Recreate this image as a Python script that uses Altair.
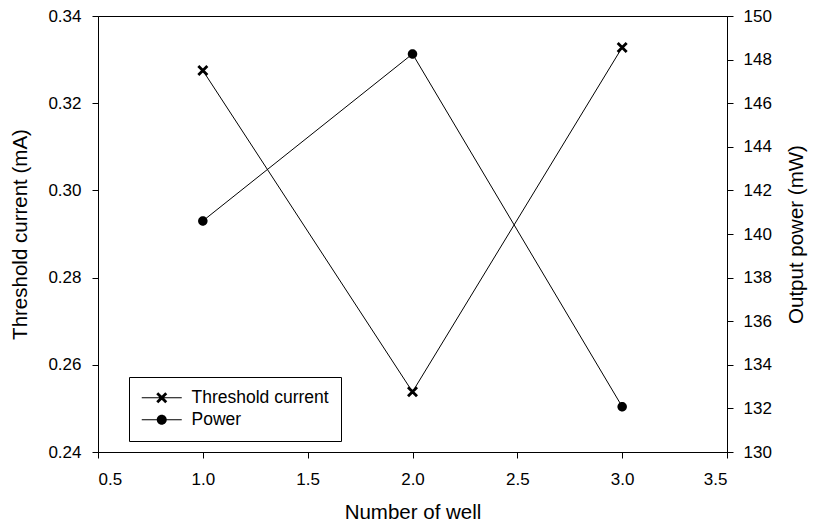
import altair as alt
import pandas as pd

wells = [1.0, 2.0, 3.0]
threshold_current = [0.3275, 0.2538, 0.3328]
output_power = [140.6, 148.26, 132.08]
series_names = ["Threshold current", "Power"]

x_ticks = [0.5, 1.0, 1.5, 2.0, 2.5, 3.0, 3.5]
left_ticks = [0.24, 0.26, 0.28, 0.30, 0.32, 0.34]
right_ticks = [130, 132, 134, 136, 138, 140, 142, 144, 146, 148, 150]

df = pd.DataFrame({"well": wells, "threshold": threshold_current, "power": output_power})

FONT = "Liberation Sans"

# marker shapes (custom SVG paths, unit coordinates, all filled with same winding)
X_PATH = ("M-0.7,-1.1L1.1,0.7L0.7,1.1L-1.1,-0.7Z"
          "M-0.7,1.1L-1.1,0.7L0.7,-1.1L1.1,-0.7Z")
CIRCLE_PATH = "M-1,0A1,1 0 1,1 1,0A1,1 0 1,1 -1,0Z"
LEG_LINE = "M-4,-0.1L4,-0.1L4,0.1L-4,0.1Z"
LEG_X = LEG_LINE + X_PATH
LEG_C = LEG_LINE + CIRCLE_PATH

x_enc = alt.X("well:Q",
              scale=alt.Scale(domain=[0.5, 3.5], nice=False, zero=False),
              axis=alt.Axis(values=x_ticks, format=".1f", title="Number of well",
                            grid=False, tickSize=6, labelPadding=13, titlePadding=15,
                            domainColor="black", tickColor="black",
                            labelFontSize=17, titleFontSize=20.5,
                            labelFont=FONT, titleFont=FONT,
                            titleFontWeight="normal", labelColor="black",
                            titleColor="black"))

y_left = alt.Y("threshold:Q",
               scale=alt.Scale(domain=[0.24, 0.34], nice=False, zero=False),
               axis=alt.Axis(values=left_ticks, format=".2f", title="Threshold current (mA)",
                             grid=False, tickSize=6, labelPadding=11, titlePadding=17,
                             domainColor="black", tickColor="black",
                             labelFontSize=17, titleFontSize=20.5,
                             labelFont=FONT, titleFont=FONT,
                             titleFontWeight="normal", labelColor="black",
                             titleColor="black"))

y_right = alt.Y("power:Q",
                scale=alt.Scale(domain=[130, 150], nice=False, zero=False),
                axis=alt.Axis(orient="right", values=right_ticks, format="d",
                              title="Output power (mW)",
                              grid=False, tickSize=6, labelPadding=10, titlePadding=15,
                              titleAngle=270, titleBaseline="top",
                              domainColor="black", tickColor="black",
                              labelFontSize=17, titleFontSize=20.5,
                              labelFont=FONT, titleFont=FONT,
                              titleFontWeight="normal", labelColor="black",
                              titleColor="black"))

base = alt.Chart(df)

thr_line = base.mark_line(color="black", strokeWidth=1).encode(x=x_enc, y=y_left)
thr_pts = base.mark_point(filled=True, color="black", size=100, opacity=1).encode(
    x=x_enc, y=y_left, shape=alt.value(X_PATH))
left = alt.layer(thr_line, thr_pts)

pow_line = base.mark_line(color="black", strokeWidth=1).encode(x=x_enc, y=y_right)
pow_pts = base.mark_point(filled=True, color="black", size=90, opacity=1).encode(
    x=x_enc, y=y_right, shape=alt.value(CIRCLE_PATH))
right = alt.layer(pow_line, pow_pts)

leg_df = pd.DataFrame({"series": series_names})
legend_layer = alt.Chart(leg_df).mark_point(
    filled=True, color="black", size=100, opacity=1
).encode(
    shape=alt.Shape("series:N",
                    scale=alt.Scale(domain=series_names, range=[LEG_X, LEG_C]),
                    legend=alt.Legend(title=None, orient="none", legendX=31, legendY=361,
                                      padding=12, strokeColor="black", fillColor="white",
                                      cornerRadius=0, labelFontSize=17.5, labelFont=FONT,
                                      labelColor="black", symbolOffset=12, labelOffset=21,
                                      rowPadding=3, symbolSize=100,
                                      symbolFillColor="black", symbolOpacity=1))
).transform_filter("datum.series == 'none'")

chart = alt.layer(left, right, legend_layer).resolve_scale(
    y="independent", shape="independent"
).properties(
    width=629, height=436,
    autosize=alt.AutoSizeParams(type="none"),
    padding={"left": 98, "top": 16, "right": 86, "bottom": 76},
    background="white",
).configure_view(stroke="black", strokeWidth=1)

chart.save("out.html", embed_options={"renderer": "svg", "actions": False})
